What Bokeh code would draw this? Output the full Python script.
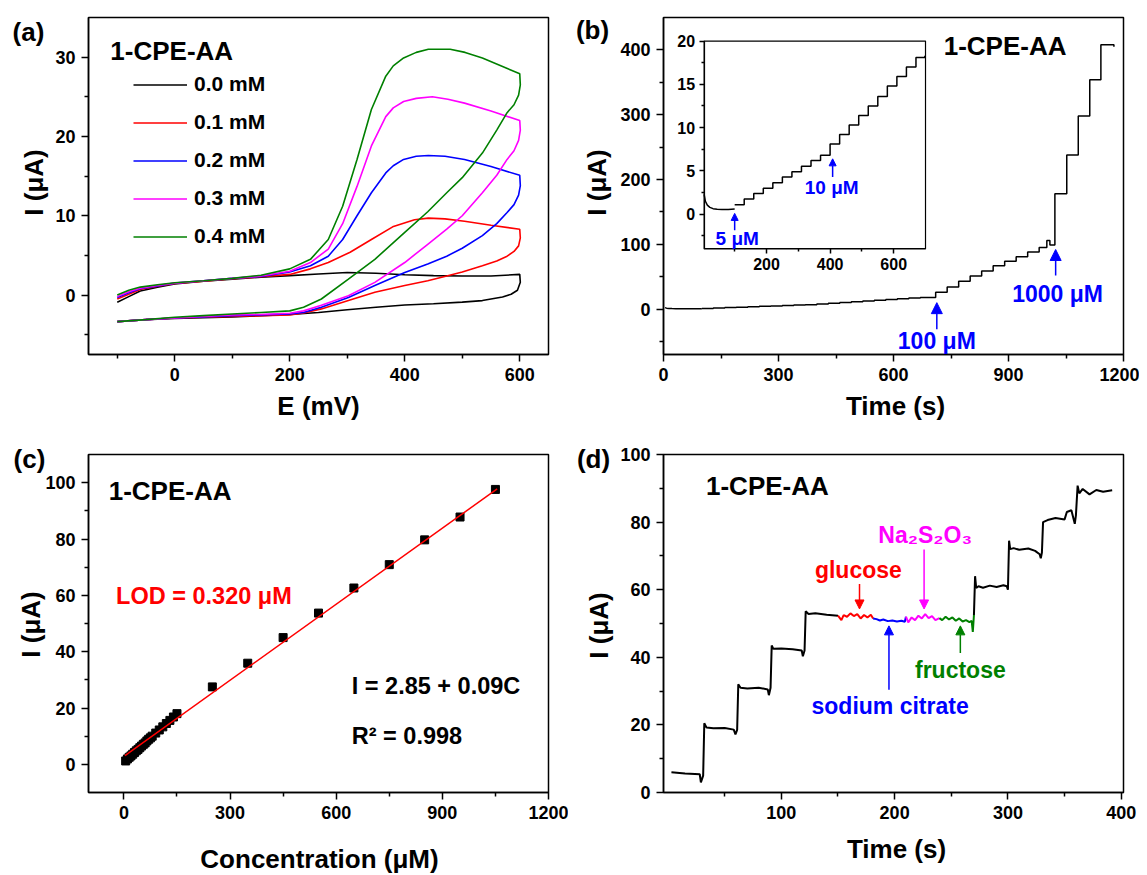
import math
from bokeh.plotting import figure
from bokeh.layouts import column, row
from bokeh.models import (Range1d, LinearAxis, FixedTicker, Label, Legend, LegendItem,
                          Arrow, NormalHead, BoxAnnotation)
from bokeh.embed import file_html
from bokeh.resources import INLINE

FONT = "Liberation Sans"
GREEN = "#008000"

# ---------------- (a) cyclic voltammograms ----------------
cv_labels = ["0.0 mM", "0.1 mM", "0.2 mM", "0.3 mM", "0.4 mM"]
cv_colors = ["black", "red", "blue", "magenta", GREEN]

cv0_E = [-100, -80, -60, -30, 0, 50, 100, 150, 200, 250, 300, 350, 400, 450, 500, 550, 600,
         601, 596, 585, 570, 535, 500, 450, 400, 350, 300, 250, 200, 150, 100, 50, 0, -50, -100]
cv0_I = [-0.9, -0.2, 0.5, 1.0, 1.4, 1.75, 2.0, 2.25, 2.45, 2.65, 2.85, 2.75, 2.55, 2.45, 2.4, 2.4, 2.6,
         1.6, 0.6, 0.1, -0.25, -0.7, -0.9, -1.1, -1.26, -1.55, -1.85, -2.2, -2.45, -2.6, -2.75, -2.85, -2.95, -3.1, -3.35]

cv1_E = [-100, -80, -60, -30, 0, 50, 100, 150, 200, 236, 267, 305, 342, 379, 417, 441, 470, 504, 550, 600,
         601, 598, 590, 578, 560, 535, 500, 473, 440, 400, 348, 302, 255, 224, 200, 150, 100, 50, 0, -50, -100]
cv1_I = [-0.5, 0.1, 0.7, 1.1, 1.45, 1.75, 2.05, 2.3, 2.6, 3.3, 4.1, 5.4, 7.0, 8.6, 9.5, 9.7, 9.6, 9.3, 8.8, 8.3,
         7.2, 6.2, 5.5, 4.9, 4.3, 3.7, 2.9, 2.4, 1.8, 1.2, 0.35, -0.7, -1.75, -2.25, -2.5, -2.6, -2.7, -2.8, -2.9, -3.1, -3.35]

cv2_E = [-100, -80, -60, -30, 0, 50, 100, 150, 200, 236, 267, 292, 317, 342, 367, 380, 398, 420, 441, 470, 504, 550, 600,
         601, 598, 590, 578, 560, 535, 500, 473, 440, 400, 348, 302, 255, 224, 200, 150, 100, 50, 0, -50, -100]
cv2_I = [-0.3, 0.3, 0.8, 1.15, 1.5, 1.8, 2.1, 2.35, 2.9, 3.7, 4.9, 7.0, 10.0, 12.9, 15.4, 16.3, 17.1, 17.5, 17.6, 17.5, 17.1, 16.2, 15.1,
         13.8, 12.6, 11.4, 10.4, 9.0, 7.5, 5.9, 4.9, 3.9, 2.85, 1.2, -0.3, -1.55, -2.2, -2.4, -2.5, -2.6, -2.75, -2.9, -3.1, -3.35]

cv3_E = [-100, -80, -60, -30, 0, 50, 100, 150, 200, 236, 267, 292, 317, 342, 367, 380, 398, 420, 448, 475, 504, 550, 600,
         601, 598, 590, 578, 560, 535, 500, 473, 440, 400, 348, 302, 255, 224, 200, 150, 100, 50, 0, -50, -100]
cv3_I = [-0.2, 0.4, 0.85, 1.2, 1.5, 1.8, 2.1, 2.4, 3.0, 4.1, 5.8, 9.0, 13.7, 18.8, 22.5, 23.6, 24.4, 24.8, 25.0, 24.7, 24.2, 23.2, 22.0,
         20.8, 19.5, 18.2, 17.1, 15.1, 12.9, 10.0, 8.3, 6.4, 4.1, 1.6, -0.1, -1.3, -2.0, -2.3, -2.45, -2.5, -2.7, -2.9, -3.1, -3.35]

cv4_E = [-100, -80, -60, -30, 0, 50, 100, 150, 200, 236, 267, 292, 317, 342, 367, 380, 398, 420, 441, 479, 505, 535, 600,
         601, 598, 590, 578, 560, 535, 500, 473, 440, 400, 348, 302, 255, 224, 200, 150, 100, 50, 0, -50, -100]
cv4_I = [0.0, 0.6, 1.0, 1.3, 1.55, 1.8, 2.1, 2.5, 3.3, 4.5, 7.0, 11.2, 17.1, 23.4, 27.6, 28.9, 29.9, 30.6, 31.0, 31.0, 30.6, 29.9, 27.9,
         26.5, 25.2, 24.0, 23.0, 20.8, 17.9, 14.8, 12.9, 10.5, 7.9, 4.5, 2.0, -0.5, -1.55, -2.0, -2.2, -2.4, -2.6, -2.8, -3.1, -3.35]

# ---------------- (b) amperometric i-t ----------------
decay_t = [4, 8, 14, 22, 32, 45, 60, 80, 100]
decay_i = [2.3, 1.5, 1.05, 0.8, 0.65, 0.58, 0.55, 0.55, 0.6]
steps5_t = [100, 130, 160, 190, 220, 250, 280, 310, 340, 370]
steps5_i = [1.1, 1.75, 2.4, 3.0, 3.65, 4.3, 4.9, 5.55, 6.2, 6.8]
steps10_t = [400, 430, 460, 490, 520, 550, 580, 610, 640, 670]
steps10_i = [8.1, 9.2, 10.3, 11.4, 12.5, 13.6, 14.8, 15.9, 17.0, 18.1]
steps100_t = [710, 740, 770, 800, 830, 860, 890, 920, 950, 980, 1000, 1008]
steps100_i = [26, 34, 43, 51, 59, 67, 74, 81, 88, 95, 106, 99]
steps1000_t = [1021, 1052, 1082, 1112, 1141, 1175]
steps1000_i = [178, 238, 298, 354, 408, 405]

# ---------------- (c) calibration ----------------
conc = [5, 10, 15, 20, 25, 30, 35, 40, 45, 50, 55, 60, 65, 70, 75, 80, 90, 100, 110, 120, 130, 140, 150,
        250, 350, 450, 550, 650, 750, 850, 950, 1050]
conc_i = [1.2, 1.9, 2.5, 3.0, 3.6, 4.2, 4.8, 5.3, 5.9, 6.5, 7.1, 7.6, 8.3, 8.9, 9.4, 10.0, 11.1, 12.2, 13.3, 14.5,
          15.6, 16.8, 18.0, 27.5, 35.9, 45.0, 53.7, 62.6, 70.9, 79.7, 87.8, 97.6]
fit_c = [3, 1055]
fit_i = [3.1, 97.8]

# ---------------- (d) interference ----------------
d_black1_t = [3, 15, 28, 29, 31, 32, 34, 40, 50, 58, 59.5, 61, 62, 64, 70, 80, 88, 89, 90.5, 91.5, 93, 100, 110,
              118, 119, 120.5, 121.5, 124, 130, 140, 150]
d_black1_i = [6.0, 5.6, 5.4, 3.0, 5.0, 20.5, 19.2, 19.0, 19.1, 18.6, 17.2, 18.5, 32.0, 31.0, 30.8, 31.0, 30.5, 28.8,
              31.0, 43.5, 42.5, 42.6, 42.4, 42.0, 40.3, 42.0, 53.6, 52.8, 53.0, 52.6, 52.3]
d_red_t = [150, 153, 155, 158, 161, 164, 167, 170, 173, 176, 179, 181]
d_red_i = [52.3, 51.0, 52.5, 52.0, 53.0, 52.2, 52.8, 51.5, 52.5, 51.8, 52.6, 51.5]
d_blue_t = [181, 184, 187, 190, 194, 198, 202, 206, 209, 210]
d_blue_i = [51.5, 51.3, 50.9, 51.2, 50.7, 50.9, 50.6, 50.8, 50.5, 52.0]
d_mag_t = [210, 212, 215, 218, 221, 224, 227, 230, 233, 236, 239.5]
d_mag_i = [52.0, 50.3, 51.8, 51.0, 52.3, 51.5, 52.8, 51.6, 52.2, 51.0, 51.6]
d_green_t = [239.5, 242, 245, 248, 251, 254, 257, 260, 263, 266, 268, 269, 270]
d_green_i = [51.6, 51.0, 52.0, 51.2, 51.8, 50.8, 51.5, 50.6, 51.0, 50.4, 50.8, 47.5, 52.5]
d_black2_t = [270, 271, 272, 274, 278, 284, 290, 296, 299, 300, 301, 302, 305, 310, 318, 324, 328, 329, 330, 331,
              335, 342, 350, 352, 356, 359, 360, 361.5, 363, 366, 372, 378, 384, 392]
d_black2_i = [52.5, 64.0, 60.5, 61.0, 60.6, 61.2, 60.8, 61.3, 61.0, 60.0, 74.5, 72.0, 72.3, 71.8, 72.2, 71.5, 70.5,
              69.3, 71.0, 80.0, 80.6, 81.2, 80.8, 83.0, 83.5, 79.5, 82.0, 90.8, 88.5, 89.8, 88.2, 89.5, 89.0, 89.4]


def style_axis(ax, size="18px", standoff=6):
    ax.axis_line_width = 1.5
    ax.major_tick_line_width = 1.5
    ax.minor_tick_line_width = 1.5
    ax.major_tick_out = 7
    ax.major_tick_in = 0
    ax.minor_tick_out = 4
    ax.minor_tick_in = 0
    ax.major_label_text_font = FONT
    ax.major_label_text_font_style = "bold"
    ax.major_label_text_font_size = size
    ax.major_label_text_color = "black"
    ax.major_label_standoff = standoff


def make_panel(w, h, xr, yr, bl, br, bt, bb, xt, xm, yt, ym):
    """Figure whose frame fills the canvas; the visible box + axes are drawn inside it."""
    kx = (w - bl - br) / (xr[1] - xr[0])
    ky = (h - bt - bb) / (yr[1] - yr[0])
    p = figure(width=w, height=h,
               x_range=Range1d(xr[0] - bl / kx, xr[1] + br / kx),
               y_range=Range1d(yr[0] - bb / ky, yr[1] + bt / ky),
               x_axis_type=None, y_axis_type=None, output_backend="svg", toolbar_location=None,
               min_border_left=0, min_border_right=0, min_border_top=0, min_border_bottom=0)
    p.outline_line_color = None
    p.background_fill_color = "white"
    p.border_fill_color = "white"
    p.add_layout(BoxAnnotation(left=xr[0], right=xr[1], bottom=yr[0], top=yr[1], fill_alpha=0,
                               line_color="black", line_width=1.5, line_alpha=1))
    xa = LinearAxis(fixed_location=yr[0], bounds=xr, ticker=FixedTicker(ticks=xt, minor_ticks=xm))
    ya = LinearAxis(fixed_location=xr[0], bounds=yr, ticker=FixedTicker(ticks=yt, minor_ticks=ym))
    style_axis(xa)
    style_axis(ya)
    p.add_layout(xa, "below")
    p.add_layout(ya, "left")
    return p


def label(p, x, y, text, size, color="black", align="left", units="data", **kw):
    p.add_layout(Label(x=x, y=y, text=text, x_units=units, y_units=units, text_align=align,
                       text_baseline="middle", text_font=FONT, text_font_style="bold",
                       text_font_size=size, text_color=color, **kw))


def axis_titles(p, xlab, xpos, ylab, ypos, size="26px"):
    label(p, xpos[0], xpos[1], xlab, size, align="center", units="screen")
    label(p, ypos[0], ypos[1], ylab, size, align="center", units="screen", angle=math.pi / 2)


def arrow(p, x0, y0, x1, y1, color, size=10, **kw):
    p.add_layout(Arrow(end=NormalHead(size=size, fill_color=color, line_color=color),
                       x_start=x0, y_start=y0, x_end=x1, y_end=y1,
                       line_color=color, line_width=1.5, **kw))


# ===== (a) =====
pa = make_panel(568, 430, (-150, 650), (-7.5, 35), 88, 20, 17, 76,
                [0, 200, 400, 600], [-100, 100, 300, 500], [0, 10, 20, 30], [-5, 5, 15, 25])
cv_E = [cv0_E, cv1_E, cv2_E, cv3_E, cv4_E]
cv_I = [cv0_I, cv1_I, cv2_I, cv3_I, cv4_I]
items = []
for E, I, c, lab in zip(cv_E, cv_I, cv_colors, cv_labels):
    r = pa.line(E, I, line_color=c, line_width=1.6)
    items.append(LegendItem(label=lab, renderers=[r]))
leg = Legend(items=items, location=(133, 182), glyph_width=54, glyph_height=23, label_height=23,
             spacing=14, padding=0, margin=0, border_line_alpha=0, background_fill_alpha=0,
             label_text_font=FONT, label_text_font_style="bold", label_text_font_size="21px",
             label_text_color="black", label_standoff=7)
pa.add_layout(leg)
label(pa, -112, 30.8, "1-CPE-AA", "26px")
axis_titles(pa, "E (mV)", (318, 25), "I (μA)", (33, 248))
label(pa, 28, 399, "(a)", "26px", align="center", units="screen")

# ===== (b) =====
pb = make_panel(571, 430, (0, 1200), (-70, 450), 95, 16, 17, 76,
                [0, 300, 600, 900, 1200], [150, 450, 750, 1050], [0, 100, 200, 300, 400], [-50, 50, 150, 250, 350])
main_t = steps5_t + steps10_t + steps100_t + steps1000_t
main_i = steps5_i + steps10_i + steps100_i + steps1000_i
pb.line(decay_t, decay_i, line_color="black", line_width=1.5)
pb.step(main_t, main_i, mode="after", line_color="black", line_width=1.5)
label(pb, 731, 406, "1-CPE-AA", "26px")
label(pb, 713, -49, "100 μM", "23px", color="blue", align="center")
arrow(pb, 713, -31, 713, 10, "blue", size=11)
label(pb, 1028, 23, "1000 μM", "23px", color="blue", align="center")
arrow(pb, 1023, 52, 1023, 92, "blue", size=11)
axis_titles(pb, "Time (s)", (327, 25), "I (μA)", (28, 248))
label(pb, 24, 401, "(b)", "26px", align="center", units="screen")

# inset inside (b): own ranges mapped onto a box given in the main data coordinates
inset_x = (4, 700)
inset_y = (-4, 20)
box_t = (106, 683.5)      # inset box edges, main time axis
box_i = (92.9, 413.7)     # inset box edges, main current axis


def sub_range(full, box, inner):
    k = (inner[1] - inner[0]) / (box[1] - box[0])
    return Range1d(inner[0] + (full.start - box[0]) * k, inner[0] + (full.end - box[0]) * k)


pb.extra_x_ranges = {"ix": sub_range(pb.x_range, box_t, inset_x)}
pb.extra_y_ranges = {"iy": sub_range(pb.y_range, box_i, inset_y)}
pb.add_layout(BoxAnnotation(left=inset_x[0], right=inset_x[1], bottom=inset_y[0], top=inset_y[1],
                            x_range_name="ix", y_range_name="iy", fill_alpha=0,
                            line_color="black", line_width=1.2, line_alpha=1))
ixa = LinearAxis(x_range_name="ix", y_range_name="iy", fixed_location=inset_y[0], bounds=inset_x,
                 ticker=FixedTicker(ticks=[200, 400, 600], minor_ticks=[100, 300, 500]))
iya = LinearAxis(x_range_name="ix", y_range_name="iy", fixed_location=inset_x[0], bounds=inset_y,
                 ticker=FixedTicker(ticks=[0, 5, 10, 15, 20], minor_ticks=[-2.5, 2.5, 7.5, 12.5, 17.5]))
for ax in (ixa, iya):
    style_axis(ax, size="16px", standoff=4)
    ax.axis_line_width = 1.2
    ax.major_tick_out = 5
    ax.minor_tick_out = 3
pb.add_layout(ixa, "below")
pb.add_layout(iya, "left")
pb.line(decay_t, decay_i, line_color="black", line_width=1.5, x_range_name="ix", y_range_name="iy")
pb.step(steps5_t + steps10_t + [698], steps5_i + steps10_i + [18.3], mode="after",
        line_color="black", line_width=1.5, x_range_name="ix", y_range_name="iy")
label(pb, 108, -2.8, "5 μM", "19px", color="blue", align="center", x_range_name="ix", y_range_name="iy")
arrow(pb, 100, -1.85, 100, 0.1, "blue", size=7, x_range_name="ix", y_range_name="iy")
label(pb, 405, 3.1, "10 μM", "19px", color="blue", align="center", x_range_name="ix", y_range_name="iy")
arrow(pb, 408, 4.3, 408, 6.4, "blue", size=7, x_range_name="ix", y_range_name="iy")

# ===== (c) =====
pc = make_panel(568, 445, (-100, 1200), (-10, 110), 88, 20, 24, 83,
                [0, 300, 600, 900, 1200], [150, 450, 750, 1050], [0, 20, 40, 60, 80, 100], [10, 30, 50, 70, 90])
pc.scatter(conc, conc_i, marker="square", size=8, fill_color="black", line_color="black")
pc.line(fit_c, fit_i, line_color="red", line_width=1.5)
label(pc, -43, 96.9, "1-CPE-AA", "26px")
label(pc, -22, 59.7, "LOD = 0.320 μM", "23.5px", color="red")
label(pc, 644, 27.9, "I = 2.85 + 0.09C", "23.5px")
label(pc, 644, 10.1, "R² = 0.998", "23.5px")
axis_titles(pc, "Concentration (μM)", (319, 17), "I (μA)", (30, 251))
label(pc, 29, 417, "(c)", "26px", align="center", units="screen")

# ===== (d) =====
pd_ = make_panel(571, 445, (-4, 402), (0, 100), 95, 16, 24, 83,
                 [100, 200, 300, 400], [50, 150, 250, 350], [0, 20, 40, 60, 80, 100], [10, 30, 50, 70, 90])
for t, i, c in [(d_black1_t, d_black1_i, "black"), (d_red_t, d_red_i, "red"), (d_blue_t, d_blue_i, "blue"),
                (d_mag_t, d_mag_i, "magenta"), (d_green_t, d_green_i, GREEN),
                (d_black2_t, d_black2_i, "black")]:
    pd_.line(t, i, line_color=c, line_width=2)
label(pd_, 33.5, 90.6, "1-CPE-AA", "26px")
label(pd_, 168, 65.9, "glucose", "23px", color="red", align="center")
arrow(pd_, 169, 61.7, 169, 54.3, "red", size=9)
label(pd_, 227, 76.3, "Na₂S₂O₃", "23px", color="magenta", align="center")
arrow(pd_, 226, 71.9, 226, 54.3, "magenta", size=9)
label(pd_, 196, 25.5, "sodium citrate", "23px", color="blue", align="center")
arrow(pd_, 195, 30.4, 195, 49.3, "blue", size=9)
label(pd_, 258, 36.3, "fructose", "23px", color=GREEN, align="center")
arrow(pd_, 258, 41.3, 258, 49.3, GREEN, size=9)
axis_titles(pd_, "Time (s)", (328, 27), "I (μA)", (30, 250))
label(pd_, 25, 417, "(d)", "26px", align="center", units="screen")

layout = column(row(pa, pb), row(pc, pd_))
open("out.html", "w").write(file_html(layout, INLINE))
